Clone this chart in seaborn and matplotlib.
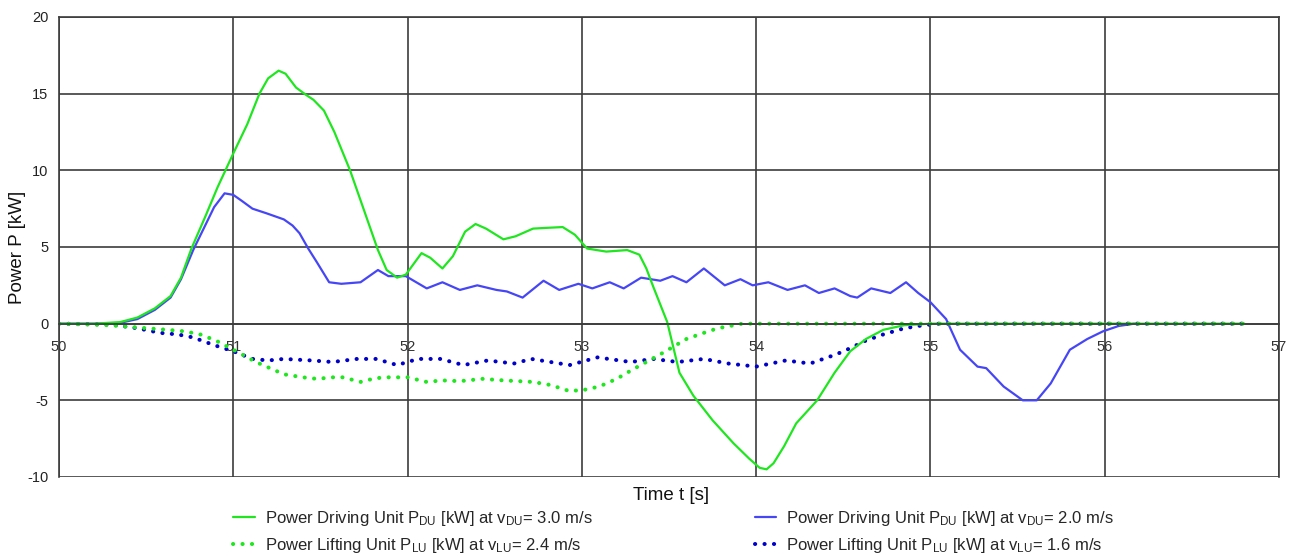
import matplotlib
matplotlib.use("Agg")
import matplotlib.pyplot as plt
import seaborn as sns
import pandas as pd

# ---- data ----
t_du30 = [50.0, 50.2, 50.35, 50.45, 50.55, 50.64, 50.70, 50.76, 50.84, 50.91, 51.00, 51.08, 51.15, 51.20,
          51.26, 51.30, 51.36, 51.42, 51.46, 51.52, 51.58, 51.67, 51.75, 51.83, 51.88, 51.94, 51.99, 52.08,
          52.13, 52.20, 52.26, 52.33, 52.39, 52.45, 52.55, 52.62, 52.72, 52.80, 52.89, 52.96, 53.03, 53.14,
          53.26, 53.33, 53.37, 53.41, 53.49, 53.56, 53.64, 53.75, 53.87, 53.96, 54.02, 54.06, 54.10, 54.16,
          54.23, 54.35, 54.45, 54.54, 54.63, 54.73, 54.85, 55.0, 56.8]
p_du30 = [0, 0, 0.1, 0.4, 1.0, 1.8, 3.0, 4.9, 7.0, 8.9, 11.1, 13.0, 15.0, 16.0,
          16.5, 16.3, 15.4, 14.9, 14.6, 13.9, 12.5, 10.0, 7.4, 4.8, 3.5, 3.0, 3.2, 4.6,
          4.3, 3.6, 4.4, 6.0, 6.5, 6.2, 5.5, 5.7, 6.2, 6.25, 6.3, 5.8, 4.9, 4.7,
          4.8, 4.5, 3.6, 2.4, 0.1, -3.2, -4.7, -6.3, -7.8, -8.8, -9.4, -9.5, -9.1, -8.0,
          -6.5, -5.0, -3.2, -1.8, -1.0, -0.4, -0.1, 0, 0]

t_du20 = [50.0, 50.2, 50.35, 50.45, 50.55, 50.64, 50.70, 50.77, 50.83, 50.89, 50.95, 51.00, 51.05, 51.11,
          51.19, 51.29, 51.34, 51.38, 51.43, 51.48, 51.55, 51.62, 51.73, 51.83, 51.89, 51.99, 52.11, 52.20,
          52.30, 52.40, 52.51, 52.57, 52.66, 52.78, 52.87, 52.98, 53.06, 53.16, 53.24, 53.34, 53.45, 53.52,
          53.60, 53.70, 53.82, 53.91, 53.98, 54.07, 54.18, 54.28, 54.36, 54.45, 54.54, 54.58, 54.66, 54.77,
          54.86, 54.93, 55.0, 55.09, 55.17, 55.27, 55.32, 55.42, 55.53, 55.61, 55.69, 55.80, 55.90, 55.99,
          56.08, 56.17]
p_du20 = [0, 0, 0.05, 0.3, 0.9, 1.7, 2.9, 4.8, 6.2, 7.6, 8.5, 8.4, 8.0, 7.5,
          7.2, 6.8, 6.4, 5.9, 4.9, 4.0, 2.7, 2.6, 2.7, 3.5, 3.1, 3.1, 2.3, 2.7,
          2.2, 2.5, 2.2, 2.1, 1.7, 2.8, 2.2, 2.6, 2.3, 2.7, 2.3, 3.0, 2.8, 3.1,
          2.7, 3.6, 2.5, 2.9, 2.5, 2.7, 2.2, 2.5, 2.0, 2.3, 1.8, 1.7, 2.3, 2.0,
          2.7, 2.0, 1.4, 0.3, -1.7, -2.8, -2.9, -4.1, -5.0, -5.0, -3.9, -1.7, -1.0, -0.5,
          -0.15, 0]

t_lu24 = [50.0, 50.29, 50.45, 50.62, 50.72, 50.81, 50.90, 51.0, 51.13, 51.29, 51.40, 51.48, 51.57, 51.63,
          51.73, 51.80, 51.86, 52.0, 52.11, 52.20, 52.30, 52.43, 52.55, 52.72, 52.82, 52.93, 53.02, 53.10,
          53.20, 53.29, 53.45, 53.60, 53.70, 53.78, 53.92, 56.8]
p_lu24 = [0, -0.1, -0.25, -0.4, -0.5, -0.7, -1.1, -1.7, -2.5, -3.3, -3.5, -3.6, -3.5, -3.5,
          -3.8, -3.6, -3.5, -3.5, -3.8, -3.7, -3.75, -3.6, -3.7, -3.8, -4.0, -4.4, -4.3, -4.1,
          -3.6, -3.0, -2.0, -1.0, -0.6, -0.3, 0, 0]

t_lu16 = [50.0, 50.3, 50.45, 50.58, 50.68, 50.77, 50.89, 51.0, 51.11, 51.20, 51.29, 51.45, 51.57, 51.71,
          51.82, 51.94, 52.06, 52.19, 52.32, 52.46, 52.61, 52.71, 52.82, 52.93, 53.09, 53.28, 53.41, 53.55,
          53.70, 53.84, 54.00, 54.17, 54.31, 54.46, 54.54, 54.63, 54.73, 54.85, 54.96, 55.05, 56.8]
p_lu16 = [0, -0.05, -0.3, -0.6, -0.7, -0.9, -1.4, -1.8, -2.3, -2.4, -2.3, -2.4, -2.5, -2.3,
          -2.3, -2.7, -2.3, -2.3, -2.7, -2.4, -2.6, -2.3, -2.5, -2.7, -2.2, -2.5, -2.3, -2.5,
          -2.3, -2.6, -2.8, -2.4, -2.6, -2.0, -1.6, -1.1, -0.7, -0.3, -0.1, 0, 0]

x_ticks = [50, 51, 52, 53, 54, 55, 56, 57]
y_ticks = [-10, -5, 0, 5, 10, 15, 20]

labels = {
    "du30": "Power Driving Unit P$_{DU}$ [kW] at v$_{DU}$= 3.0 m/s",
    "du20": "Power Driving Unit P$_{DU}$ [kW] at v$_{DU}$= 2.0 m/s",
    "lu24": "Power Lifting Unit P$_{LU}$ [kW] at v$_{LU}$= 2.4 m/s",
    "lu16": "Power Lifting Unit P$_{LU}$ [kW] at v$_{LU}$= 1.6 m/s",
}

sns.set_theme(style="white")
plt.rcParams['font.family'] = ['Liberation Sans', 'DejaVu Sans']
plt.rcParams['mathtext.default'] = 'regular'

fig = plt.figure(figsize=(12.9, 5.56), dpi=100)
ax = fig.add_axes([59/1290, 1 - 477/556, 1220/1290, 460/556])

GREEN = "#1fe61f"
BLUE = "#4646f5"
DBLUE = "#0000c8"
dot = dict(linestyle=(0, (0.05, 2.3)), dash_capstyle="round", linewidth=2.9)

h_b = sns.lineplot(x=t_du20, y=p_du20, ax=ax, color=BLUE, linewidth=1.6, sort=False,
                   estimator=None, label=labels["du20"], legend=False).get_lines()[-1]
l_bd = sns.lineplot(x=t_lu16, y=p_lu16, ax=ax, color=DBLUE, sort=False, estimator=None,
                    label=labels["lu16"], legend=False, **dot).get_lines()[-1]
l_gd = sns.lineplot(x=t_lu24, y=p_lu24, ax=ax, color=GREEN, sort=False, estimator=None,
                    label=labels["lu24"], legend=False, **dot).get_lines()[-1]
l_g = sns.lineplot(x=t_du30, y=p_du30, ax=ax, color=GREEN, linewidth=1.6, sort=False,
                   estimator=None, label=labels["du30"], legend=False).get_lines()[-1]

ax.set_xlim(50, 57)
ax.set_ylim(-10, 20)
ax.set_xticks(x_ticks)
ax.set_yticks(y_ticks)
ax.set_xticklabels([str(v) for v in x_ticks])
ax.set_yticklabels([str(v) for v in y_ticks])
ax.grid(True, color="#3c3c3c", linewidth=1.2)
ax.set_axisbelow(True)
for s in ["top", "right", "left"]:
    ax.spines[s].set_color("#3c3c3c")
    ax.spines[s].set_linewidth(1.2)
ax.spines["bottom"].set_position(("data", 0))
ax.spines["bottom"].set_color("#3c3c3c")
ax.spines["bottom"].set_linewidth(1.2)
ax.tick_params(axis="both", length=0, labelsize=10.5, colors="#222222")
ax.tick_params(axis="x", pad=12)
ax.tick_params(axis="y", pad=7.5)
for lab in ax.get_xticklabels():
    lab.set_color("#333333")

ax.set_ylabel("Power P [kW]", fontsize=13.5, color="#111111")
ax.yaxis.set_label_coords(-(59 - 26) / 1220, 0.5)
fig.text(671/1290, 1 - 496/556, "Time t [s]", ha="center", va="center", fontsize=13.5, color="#111111")

fig.legend(handles=[l_g, l_gd, h_b, l_bd],
           labels=[labels["du30"], labels["lu24"], labels["du20"], labels["lu16"]],
           ncol=2, loc="upper left", bbox_to_anchor=(233/1290, 1 - 509/556),
           frameon=False, fontsize=12, handlelength=1.3, handletextpad=0.6,
           columnspacing=9.75, labelspacing=0.5, borderaxespad=0, borderpad=0)

fig.savefig("out.png", dpi=100)
